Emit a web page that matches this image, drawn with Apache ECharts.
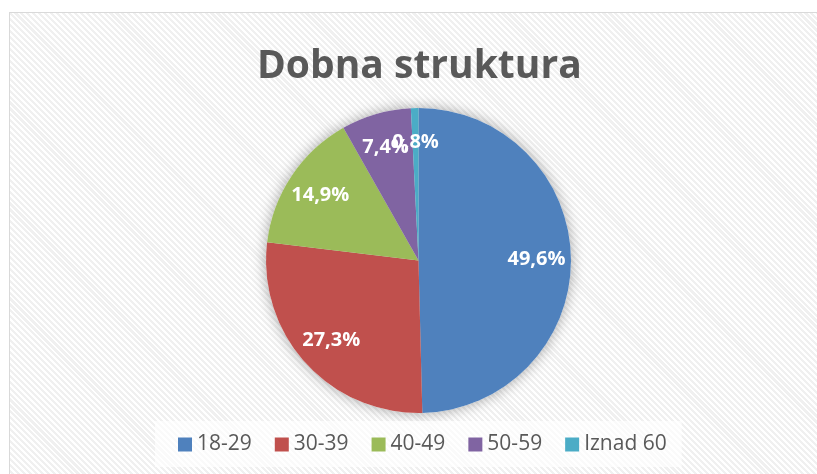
<!DOCTYPE html>
<html>
<head>
<meta charset="utf-8">
<script src="https://cdn.jsdelivr.net/npm/echarts@6/dist/echarts.min.js"></script>
<style>
  html, body { margin: 0; padding: 0; background: #fff; overflow: hidden; }
  .frame {
    position: absolute; left: 9px; top: 12px; width: 830px; height: 480px;
    border: 1px solid #d9d9d9;
    background: repeating-linear-gradient(45deg, #ffffff 0px, #ffffff 2px, #f0f0f0 2px, #f0f0f0 4.2px);
  }
  #chart { position: absolute; left: 0; top: 0; width: 817px; height: 474px; }
</style>
</head>
<body>
<div class="frame"></div>
<div id="chart"></div>
<script>
// podaci
var categories = ['18-29', '30-39', '40-49', '50-59', 'Iznad 60'];
var shares = [49.6, 27.3, 14.9, 7.4, 0.8];
var colors = ['#4F81BD', '#C0504D', '#9BBB59', '#8064A2', '#4BACC6'];

var pieData = categories.map(function (name, i) {
  return { name: name, value: shares[i], itemStyle: { color: colors[i] } };
});

var center = [418.5, 260.5];
var radius = 152.5;

var chart = echarts.init(document.getElementById('chart'), null, { renderer: 'canvas' });
chart.setOption({
  backgroundColor: 'transparent',
  animation: false,
  title: {
    text: 'Dobna struktura',
    left: 252,
    top: 42,
    textStyle: {
      fontFamily: 'Open Sans',
      fontSize: 39,
      fontWeight: 'bold',
      color: '#595959'
    }
  },
  legend: {
    data: categories,
    left: 155,
    top: 421,
    orient: 'horizontal',
    icon: 'rect',
    itemWidth: 14,
    itemHeight: 14,
    itemGap: 23,
    padding: [13, 15, 12, 23],
    backgroundColor: 'rgba(255,255,255,0.65)',
    textStyle: { fontFamily: 'Open Sans', fontSize: 21, color: '#595959' }
  },
  series: [
    {
      // sjena ispod pite
      type: 'pie',
      silent: true,
      legendHoverLink: false,
      z: 1,
      center: center,
      radius: [0, radius],
      startAngle: 90,
      label: { show: false },
      labelLine: { show: false },
      itemStyle: {
        color: '#ffffff',
        shadowBlur: 14,
        shadowColor: 'rgba(0,0,0,0.35)'
      },
      data: shares.map(function (v, i) { return { name: '_s' + i, value: v }; })
    },
    {
      type: 'pie',
      z: 2,
      center: center,
      radius: [0, radius],
      startAngle: 90,
      clockwise: true,
      label: { show: false },
      labelLine: { show: false },
      itemStyle: { borderWidth: 0 },
      emphasis: { disabled: true },
      data: pieData
    },
    {
      // prozirni sloj samo za oznake
      type: 'pie',
      silent: true,
      legendHoverLink: false,
      z: 3,
      center: center,
      radius: [54, 176],
      startAngle: 90,
      avoidLabelOverlap: false,
      minShowLabelAngle: 0,
      labelLayout: { hideOverlap: false },
      itemStyle: { color: 'rgba(0,0,0,0)' },
      label: {
        show: true,
        position: 'inside',
        formatter: function (p) {
          return p.value.toFixed(1).replace('.', ',') + '%';
        },
        fontFamily: 'Open Sans',
        fontSize: 20,
        fontWeight: 'bold',
        color: '#ffffff'
      },
      labelLine: { show: false },
      data: shares.map(function (v, i) { return { name: '_l' + i, value: v }; })
    }
  ]
});
</script>
</body>
</html>
